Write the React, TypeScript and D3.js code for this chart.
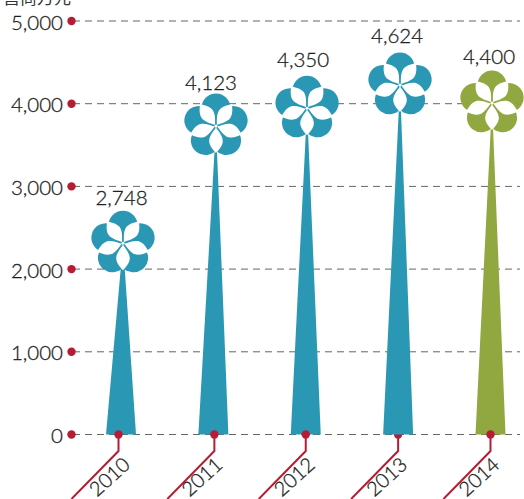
import React from 'react';
import * as d3 from 'd3';

const years = ['2010', '2011', '2012', '2013', '2014'];
const values = [2748, 4123, 4350, 4624, 4400];
const colors = ['#2a98b4', '#2a98b4', '#2a98b4', '#2a98b4', '#90a83f'];
const ticks = [0, 1000, 2000, 3000, 4000, 5000];
const unit = '营商万元';

// hand placed offsets, the original is not quite regular
const flowerNudge = [4, 0.5, 1.5, 1, 0.5];
const flowerShift = [2, 2.6, 1.3, 1.9, 1.5];
const labelGap = [6, 4, 9, 10, 7.5];
const labelShift = [0.5, -2.4, -2.7, -1, -1.5];
const dotNudge = [-2.5, 1, 0, 0, 0];

const FONT = 'Lato, sans-serif';
const RED = '#b71c35';
const INK = '#1f1f1f';

const y = d3.scaleLinear().domain([0, 5000]).range([434.5, 21]);
const x = d3.scalePoint<string>().domain(years).range([121, 490.5]);

const circleAngles = d3.range(5).map(i => i * 72);
const petalAngles = d3.range(5).map(i => 36 + i * 72);

// teardrop pointing up from the flower centre
const PETAL = 'M0,-1.5 C-2.5,-5 -6.8,-10 -6.8,-15 C-6.8,-19.5 -3,-24 0,-27 C3,-24 6.8,-19.5 6.8,-15 C6.8,-10 2.5,-5 0,-1.5 Z';

const spike = d3.line<[number, number]>();

const textStyle = {
  fontFamily: FONT,
  fontWeight: 300,
  fill: INK,
  stroke: INK,
  strokeWidth: 0.3,
};

export default function App() {
  return (
    <svg width={524} height={499} style={{ position: 'absolute', left: 0, top: 0 }}>
      <text x={3} y={4} fontFamily="Noto Sans CJK SC, sans-serif" fontSize={17} fill="#333">{unit}</text>
      {ticks.map(t => (
        <g key={t}>
          <line x1={73} x2={520} y1={y(t)} y2={y(t)} stroke="#666" strokeWidth={1} strokeDasharray="7 5" />
          <circle cx={71.5} cy={y(t)} r={4.2} fill={RED} />
          <text x={63} y={y(t) + 8.5} textAnchor="end" fontSize={20.5} style={textStyle}>
            {d3.format(',')(t)}
          </text>
        </g>
      ))}
      {years.map((yr, i) => {
        const cx = x(yr)!;
        const top = y(values[i]) + flowerNudge[i];
        const fx = cx + flowerShift[i];
        const fy = top + 32;
        const dx = cx + dotNudge[i];
        const leader = (
          <>
            <path d={`M${dx},${y(0)} v16.5 l-47,48`} fill="none" stroke={RED} strokeWidth={2} />
            <circle cx={dx} cy={y(0)} r={4.2} fill={RED} />
          </>
        );
        return (
          <g key={yr}>
            {yr === '2013' && leader}
            <path
              d={spike([[cx - 15, y(0)], [cx + 15, y(0)], [fx, fy], [cx - 15, y(0)]])!}
              fill={colors[i]}
            />
            {yr !== '2013' && leader}
            <g transform={`translate(${fx},${fy})`}>
              {circleAngles.map(a => (
                <circle key={a} transform={`rotate(${a}) translate(0,-18)`} r={14.5} fill={colors[i]} />
              ))}
              <circle r={10} fill={colors[i]} />
              {petalAngles.map(a => (
                <path key={a} transform={`rotate(${a})`} d={PETAL} fill="#fff" />
              ))}
              <circle r={1.6} fill="#fff" />
            </g>
            <text x={cx + labelShift[i]} y={top - labelGap[i]} textAnchor="middle" fontSize={20.5} style={textStyle}>
              {d3.format(',')(values[i])}
            </text>
            <text
              transform={`translate(${cx + 10.5},${y(0) + 32}) rotate(-42)`}
              textAnchor="end"
              fontSize={20}
              style={textStyle}
            >
              {yr}
            </text>
          </g>
        );
      })}
    </svg>
  );
}
